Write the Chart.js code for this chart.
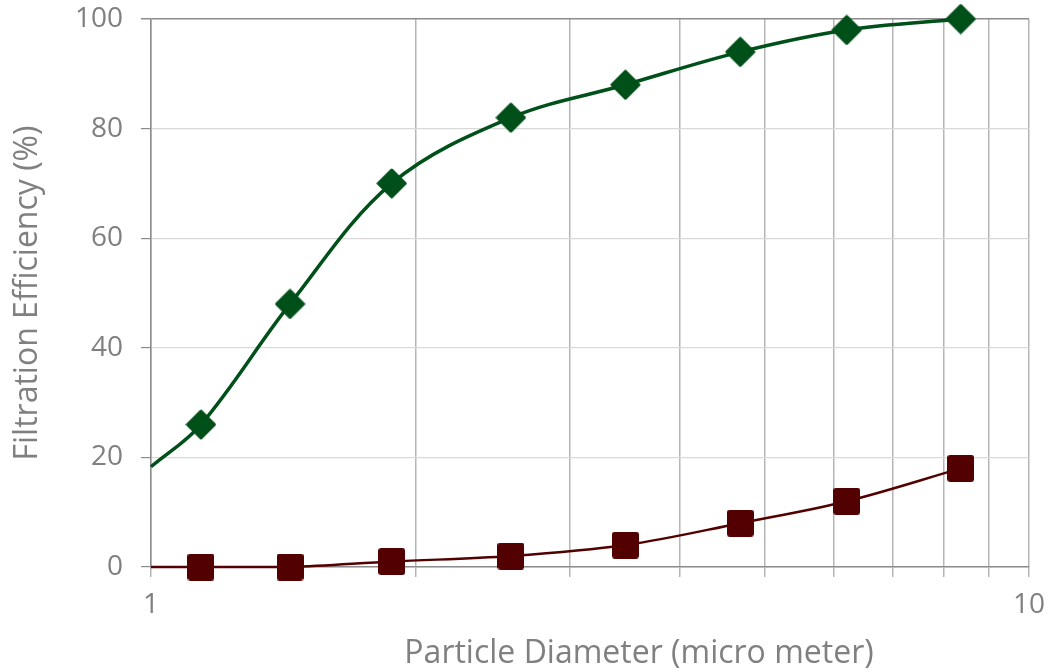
<!DOCTYPE html>
<html>
<head>
<meta charset="utf-8">
<script src="https://cdn.jsdelivr.net/npm/chart.js@4"></script>
<style>
  html, body { margin: 0; padding: 0; background: #fff; }
  #wrap { width: 1049px; height: 672px; }
</style>
</head>
<body>
<div id="wrap"><canvas id="grafico"></canvas></div>
<script>
// particle diameter (micro meter); first entry is where the curves start at the left edge (no marker)
var diametros = [1, 1.14, 1.44, 1.88, 2.57, 3.47, 4.69, 6.2, 8.36];
var eficienciaAlta = [18.3, 26, 48, 70, 82, 88, 94, 98, 100];
var eficienciaBaixa = [0, 0, 0, 1, 2, 4, 8, 12, 18];
var ticksX = [1, 2, 3, 4, 5, 6, 7, 8, 9, 10];
var rotulosX = [1, 10];
var rotulosY = [0, 20, 40, 60, 80, 100];
var tituloX = 'Particle Diameter (micro meter)';
var tituloY = 'Filtration Efficiency (%)';

var verde = '#00501a';
var vinho = '#520000';
var cinzaTexto = '#808080';

function losango(d, cor) {
    var c = document.createElement('canvas');
    c.width = d; c.height = d;
    var g = c.getContext('2d');
    var m = d / 2, r = d / 2 - 2;
    g.beginPath();
    g.moveTo(m, m - r); g.lineTo(m + r, m); g.lineTo(m, m + r); g.lineTo(m - r, m);
    g.closePath();
    g.fillStyle = cor; g.strokeStyle = cor;
    g.lineJoin = 'round'; g.lineWidth = 3;
    g.fill(); g.stroke();
    return c;
}

function quadrado(lado, cor) {
    var c = document.createElement('canvas');
    c.width = lado; c.height = lado;
    var g = c.getContext('2d');
    g.fillStyle = cor;
    g.beginPath();
    g.roundRect(0, 0, lado, lado, 3);
    g.fill();
    return c;
}

function pontos(xs, ys) {
    return xs.map(function (x, i) { return { x: x, y: ys[i] }; });
}

var raios = diametros.map(function (d, i) { return i === 0 ? 0 : 10; });

// x axis title is drawn a bit right of centre, like the original
var tituloEixoX = {
    id: 'tituloEixoX',
    afterDraw: function (chart) {
        var g = chart.ctx;
        g.save();
        g.font = '32px "Open Sans"';
        g.fillStyle = cinzaTexto;
        g.textAlign = 'center';
        g.textBaseline = 'middle';
        g.fillText(tituloX, 639, 654);
        g.restore();
    }
};

var ctx = document.getElementById('grafico').getContext('2d');
var chart = new Chart(ctx, {
    type: 'scatter',
    data: {
        datasets: [{
            label: 'alta',
            data: pontos(diametros, eficienciaAlta),
            showLine: true,
            borderColor: verde,
            backgroundColor: verde,
            borderWidth: 3.5,
            tension: 0.35,
            pointStyle: losango(31, verde),
            pointRadius: raios,
            clip: false
        }, {
            label: 'baixa',
            data: pontos(diametros, eficienciaBaixa),
            showLine: true,
            borderColor: vinho,
            backgroundColor: vinho,
            borderWidth: 2.5,
            tension: 0.35,
            pointStyle: quadrado(27, vinho),
            pointRadius: raios,
            clip: false
        }]
    },
    plugins: [tituloEixoX],
    options: {
        responsive: true,
        maintainAspectRatio: false,
        animation: false,
        layout: { padding: { left: 0, top: 19, right: 20, bottom: 0 } },
        plugins: { legend: { display: false }, tooltip: { enabled: false } },
        scales: {
            x: {
                type: 'logarithmic',
                min: 1,
                max: 10,
                afterFit: function (s) { s.height = 105; s.paddingLeft = 0; s.paddingRight = 0; },
                afterBuildTicks: function (s) { s.ticks = ticksX.map(function (v) { return { value: v }; }); },
                border: { color: '#8c8c8c', width: 1.5 },
                grid: { color: '#b5b5b5', tickColor: '#b5b5b5', tickLength: 10, lineWidth: 1.5 },
                ticks: {
                    autoSkip: false,
                    maxRotation: 0,
                    padding: 11,
                    color: cinzaTexto,
                    font: { family: 'Open Sans', size: 28 },
                    callback: function (v) { return rotulosX.indexOf(v) >= 0 ? String(v) : ''; }
                }
            },
            y: {
                min: 0,
                max: 100,
                afterFit: function (s) { s.width = 151; s.paddingTop = 0; s.paddingBottom = 0; },
                afterBuildTicks: function (s) { s.ticks = rotulosY.map(function (v) { return { value: v }; }); },
                border: { color: '#8c8c8c', width: 1.5 },
                grid: {
                    color: function (c) { return c.tick && c.tick.value === 100 ? '#8c8c8c' : '#d9d9d9'; },
                    lineWidth: function (c) { return c.tick && c.tick.value === 100 ? 1.5 : 1.2; },
                    tickColor: '#8c8c8c',
                    tickLength: 10
                },
                ticks: {
                    padding: 18,
                    color: cinzaTexto,
                    font: { family: 'Open Sans', size: 28 }
                },
                title: {
                    display: true,
                    text: tituloY,
                    color: cinzaTexto,
                    font: { family: 'Open Sans', size: 32 },
                    padding: { top: 9, bottom: 0 }
                }
            }
        }
    }
});
</script>
</body>
</html>
